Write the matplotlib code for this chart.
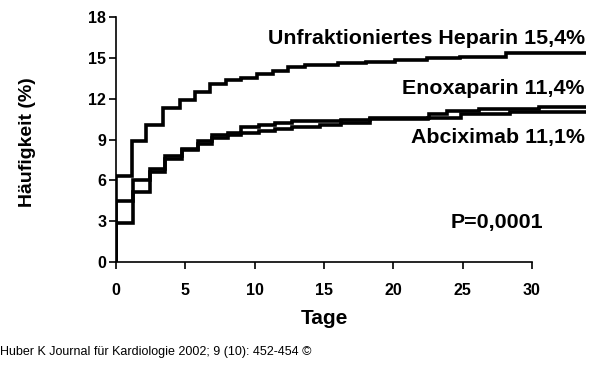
import matplotlib
matplotlib.use("Agg")
import matplotlib.pyplot as plt

plt.rcParams['font.family'] = ['Liberation Sans', 'DejaVu Sans']

# Kumulative Häufigkeit (%) über Tage, Stufenkurven
hep_tage = [0, 0, 1.13, 2.2, 3.4, 4.6, 5.7, 6.75, 7.9, 9.0, 10.2, 11.3, 12.4, 13.6,
            16.0, 18.0, 20.1, 22.4, 24.8, 28.1, 34]
hep_wert = [0, 6.3, 8.9, 10.1, 11.3, 11.9, 12.5, 13.1, 13.4, 13.5, 13.85, 14.05, 14.3, 14.5,
            14.6, 14.7, 14.85, 15.0, 15.1, 15.35, 15.35]

eno_tage = [0, 0, 1.2, 2.45, 3.55, 4.75, 5.95, 6.9, 8.1, 9.05, 10.3, 11.5, 12.7,
            16.2, 18.3, 22.6, 23.9, 26.2, 30.5, 34]
eno_wert = [0, 4.45, 6.0, 6.85, 7.8, 8.3, 8.9, 9.3, 9.5, 9.9, 10.05, 10.2, 10.35,
            10.45, 10.6, 10.85, 11.1, 11.25, 11.4, 11.4]

abc_tage = [0, 0, 1.2, 2.45, 3.55, 4.75, 5.95, 6.9, 8.1, 9.05, 10.3, 11.5, 12.7,
            14.7, 16.2, 18.3, 22.5, 24.9, 28.4, 34]
abc_wert = [0, 2.9, 5.15, 6.6, 7.6, 8.2, 8.7, 9.1, 9.3, 9.5, 9.65, 9.75, 9.9,
            10.1, 10.25, 10.5, 10.6, 10.85, 11.0, 11.0]

labels = ["Unfraktioniertes Heparin 15,4%", "Enoxaparin 11,4%", "Abciximab 11,1%"]

fig = plt.figure(figsize=(6, 3.88), dpi=100)
ax = fig.add_axes([0.1933, 0.3247, 0.7834, 0.6313])

for t, w in [(hep_tage, hep_wert), (eno_tage, eno_wert), (abc_tage, abc_wert)]:
    ax.step(t, w, where='post', color='black', lw=2.6, solid_joinstyle='miter')

ax.set_xlim(0, 33.9)
ax.set_ylim(0, 18)
ax.set_xticks(range(0, 31, 5))
ax.set_yticks(range(0, 19, 3))
ax.spines['bottom'].set_bounds(0, 30)
ax.spines['top'].set_visible(False)
ax.spines['right'].set_visible(False)
for s in ['left', 'bottom']:
    ax.spines[s].set_linewidth(1.2)
ax.tick_params(direction='out', length=5, width=1.2, labelsize=11.5)
ax.tick_params(axis='x', pad=10)
ax.tick_params(axis='y', pad=2)
for lab in ax.get_xticklabels() + ax.get_yticklabels():
    lab.set_fontweight('bold')

ax.set_xlabel("Tage", fontsize=15, fontweight='bold')
ax.set_ylabel("Häufigkeit (%)", fontsize=14, fontweight='bold')
ax.xaxis.label.set_va('center')
ax.xaxis.set_label_coords(15 / 33.9, -0.2286)
ax.yaxis.label.set_va('center')
ax.yaxis.set_label_coords(-0.189, 0.49)

fs = 15.4
ax.text(33.8, 16.46, labels[0], ha='right', va='center', fontsize=fs, fontweight='bold', clip_on=False)
ax.text(33.8, 12.73, labels[1], ha='right', va='center', fontsize=fs, fontweight='bold', clip_on=False)
ax.text(33.8, 9.14, labels[2], ha='right', va='center', fontsize=fs, fontweight='bold', clip_on=False)
ax.text(27.5, 2.93, "P=0,0001", ha='center', va='center', fontsize=fs, fontweight='bold')

fig.text(0.0, 1 - 352 / 388, "Huber K Journal für Kardiologie 2002; 9 (10): 452-454 ©",
         ha='left', va='center', fontsize=9,
         family=['Liberation Sans Narrow', 'Liberation Sans', 'DejaVu Sans'])

fig.savefig("out.png", dpi=100)
